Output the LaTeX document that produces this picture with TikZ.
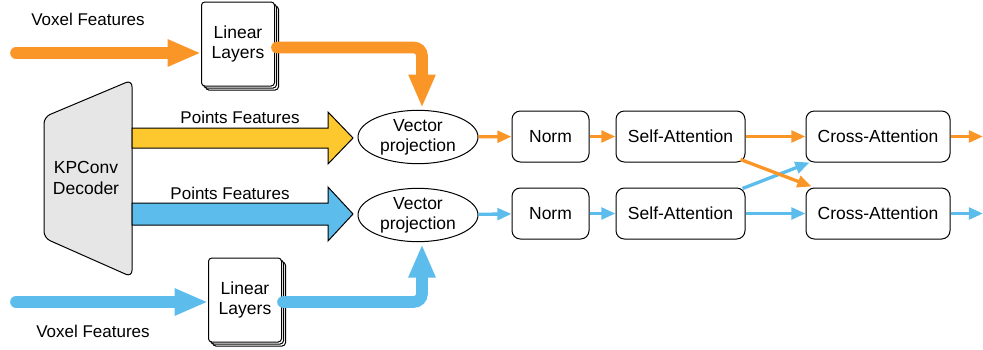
\documentclass[tikz,border=0pt]{standalone}
\usepackage{fontspec}
\setmainfont{Liberation Sans}
\usetikzlibrary{shapes.geometric,shadows,arrows.meta}
\definecolor{featorange}{RGB}{250,150,40}
\definecolor{featblue}{RGB}{92,188,236}
\definecolor{featyellow}{RGB}{252,200,46}
\definecolor{decgray}{RGB}{230,230,230}
\tikzstyle{block}=[draw, rounded corners=5pt, line width=0.6pt,
                   minimum height=30.6pt, align=center,
                   font=\fontsize{10.5}{12.5}\selectfont]
\tikzstyle{proj}=[ellipse, draw, line width=0.6pt,
                  minimum width=72pt, minimum height=32pt,
                  inner sep=0pt, align=center,
                  font=\fontsize{10.5}{12}\selectfont]
\tikzstyle{layers}=[draw, fill=white, rounded corners=2pt, line width=0.6pt,
                    minimum width=43.8pt, minimum height=50.4pt, align=center,
                    font=\fontsize{10.5}{11.5}\selectfont,
                    double copy shadow={shadow xshift=1.2pt, shadow yshift=-1.2pt}]
\tikzstyle{thick flow}=[line width=7pt, line cap=round, rounded corners=5pt,
                        -{Triangle[length=20pt,width=15pt]}]
\tikzstyle{thin flow}=[line width=2pt, -{Triangle[length=8.5pt,width=7pt]}]
\tikzstyle{fat}=[draw, line width=0.6pt, line join=miter]

\begin{document}
\begin{tikzpicture}[x=0.6pt, y=-0.6pt, font=\fontsize{10.2}{12}\selectfont]
    \useasboundingbox (0,0) rectangle (983,349);

    % decoder
    \draw [fill=decgray, line width=0.6pt, rounded corners=4pt]
      (44,117) -- (132,80) -- (132,277) -- (44,238) -- cycle;
    \node (dec) at (86,178) [align=center, font=\fontsize{10.5}{12.5}\selectfont]
      {KPConv\\Decoder};

    \coordinate (decA) at (132,138);
    \coordinate (decB) at (132,214);
    \filldraw [fat, fill=featyellow] (decA) ++(0,-10) -- ++(196,0) -- ++(0,-16)
      -- ++(25,26) -- ++(-25,26) -- ++(0,-16) -- ++(-196,0) -- cycle;
    \filldraw [fat, fill=featblue] (decB) ++(0,-11) -- ++(196,0) -- ++(0,-16)
      -- ++(25,27) -- ++(-25,27) -- ++(0,-16) -- ++(-196,0) -- cycle;

    % labels
    \node (voxA) at (88,19)  {Voxel Features};
    \node (voxB) at (93,331) {Voxel Features};
    \node (ptsA) at (240,117) {Points Features};
    \node (ptsB) at (230,193) {Points Features};

    % blocks
    \node (linA) at (238,44)  [layers] {Linear\\Layers};
    \node (linB) at (245,300) [layers] {Linear\\Layers};
    \node (projA) at (418,137) [proj] {Vector\\projection};
    \node (projB) at (418,215) [proj] {Vector\\projection};

    \node (normA)  at (550.5,136.5) [block, minimum width=46.2pt] {Norm};
    \node (selfA)  at (680.5,136.5) [block, minimum width=77.4pt] {Self-Attention};
    \node (crossA) at (878,136.5)   [block, minimum width=86.4pt] {Cross-Attention};
    \node (normB)  at (550.5,213.5) [block, minimum width=46.2pt] {Norm};
    \node (selfB)  at (680.5,213.5) [block, minimum width=77.4pt] {Self-Attention};
    \node (crossB) at (878,213.5)   [block, minimum width=86.4pt] {Cross-Attention};
    \coordinate (outA) at (983,136.5);
    \coordinate (outB) at (983,213.5);

    % voxel branches
    \coordinate (srcA) at (16,53);
    \coordinate (srcB) at (16,302);
    \draw [thick flow, featorange] (srcA) -- (linA.west |- srcA);
    \draw [thick flow, featblue]   (srcB) -- (linB.west |- srcB);
    \draw [thick flow, featorange] ([shift={(2,3.5)}]linA.east)
      -| ([shift={(4,-2)}]projA.north);
    \draw [thick flow, featblue] ([shift={(1,2)}]linB.east)
      -| ([shift={(4,2)}]projB.south);

    % attention rows
    \foreach \u/\v in {projA/normA,normA/selfA,selfA/crossA,crossA/outA}
      \draw [thin flow, featorange] (\u) -- (\v);
    \foreach \u/\v in {projB/normB,normB/selfB,selfB/crossB,crossB/outB}
      \draw [thin flow, featblue] (\u) -- (\v);

    \draw [thin flow, featblue] ([shift={(-3,1)}]selfB.north east)
      -- ([shift={(4,0)}]crossA.south west);
    \draw [thin flow, featorange] ([shift={(-5,-3)}]selfA.south east)
      -- ([shift={(6,-1)}]crossB.north west);
\end{tikzpicture}
\end{document}
